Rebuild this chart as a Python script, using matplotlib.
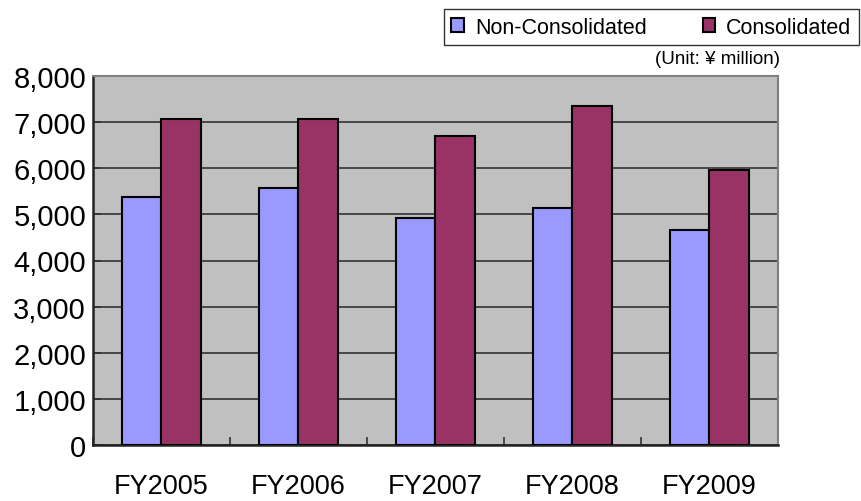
import matplotlib
matplotlib.use("Agg")
import matplotlib.pyplot as plt
import numpy as np
from matplotlib.ticker import FuncFormatter

categories = ["FY2005", "FY2006", "FY2007", "FY2008", "FY2009"]
non_consolidated = [5380, 5570, 4920, 5140, 4660]
consolidated = [7070, 7070, 6700, 7350, 5960]
series_names = ["Non-Consolidated", "Consolidated"]
yticks = [0, 1000, 2000, 3000, 4000, 5000, 6000, 7000, 8000]

fig = plt.figure(figsize=(8.62, 5.02), dpi=100)
ax = fig.add_axes([93/862, 1-446/502, 685/862, 369/502])
ax.set_facecolor("#C0C0C0")

x = np.arange(len(categories))
w = 1/3.5
b1 = ax.bar(x - w/2, non_consolidated, w, color="#9999FF", edgecolor="black", linewidth=1.5, zorder=3,
            label=series_names[0])
b2 = ax.bar(x + w/2, consolidated, w, color="#993366", edgecolor="black", linewidth=1.5, zorder=3,
            label=series_names[1])

ax.set_xlim(-0.5, len(categories) - 0.5)
ax.set_ylim(0, 8000)
ax.set_yticks(yticks)
ax.yaxis.set_major_formatter(FuncFormatter(lambda v, p: f"{int(v):,}"))
ax.yaxis.grid(True, color="#333333", linewidth=1.2, zorder=1)
ax.set_axisbelow(True)

ax.set_xticks(x)
ax.set_xticklabels(categories, fontsize=19.5, family="Liberation Sans")
ax.set_xticks(np.arange(len(categories) + 1) - 0.5, minor=True)
ax.tick_params(axis="x", which="major", length=0, pad=20)
ax.tick_params(axis="x", which="minor", direction="in", length=6, width=1.2, color="#333333")
ax.tick_params(axis="y", direction="in", length=6, width=1.2, color="#333333", pad=5, labelsize=21)
for lab in ax.get_yticklabels():
    lab.set_family("Liberation Sans")

for s in ["left", "bottom"]:
    ax.spines[s].set_color("#222222")
    ax.spines[s].set_linewidth(1.8)
for s in ["top", "right"]:
    ax.spines[s].set_color("#808080")
    ax.spines[s].set_linewidth(1.5)

leg = fig.legend(handles=[b1, b2], loc="upper right", bbox_to_anchor=(859/862, 1-10/502),
                 ncol=2, frameon=True, fancybox=False, edgecolor="black",
                 handlelength=0.6, handleheight=0.6, handletextpad=0.5, columnspacing=2.6,
                 borderpad=0.35, borderaxespad=0.0,
                 prop={"family": "Liberation Sans", "size": 15.5})
leg.get_frame().set_linewidth(1.0)

fig.text(780/862, 1-59/502, "(Unit: ¥ million)", ha="right", va="center", fontsize=13.5,
         family="Liberation Sans")

fig.savefig("out.png", dpi=100)
